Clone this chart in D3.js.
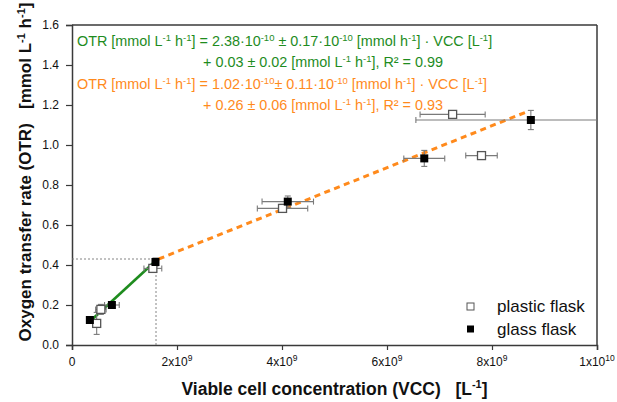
<!DOCTYPE html>
<html><head><meta charset="utf-8">
<script src="https://cdn.jsdelivr.net/npm/d3@7"></script>
<style>
body{margin:0;background:#fff;}
svg text{font-family:"Liberation Sans",Arial,sans-serif;white-space:pre;}
</style></head>
<body><svg id="c" width="617" height="402"></svg>
<script>
// ---- data ----
const plasticX    = [0.47e9, 0.55e9, 1.54e9, 4.01e9, 7.80e9, 7.25e9];
const plasticY    = [0.108, 0.178, 0.383, 0.683, 0.947, 1.153];
const plasticXErr = [0.05e9, 0.10e9, 0.17e9, 0.48e9, 0.30e9, 0.62e9];
const plasticYErr = [0.055, 0.025, 0.02, 0.02, 0.015, 0.015];
const glassX      = [0.34e9, 0.76e9, 1.59e9, 4.11e9, 6.71e9, 8.74e9];
const glassY      = [0.125, 0.20, 0.415, 0.717, 0.933, 1.125];
const glassXErr   = [0.05e9, 0.14e9, 0.05e9, 0.49e9, 0.39e9, 2.19e9];
const glassYErr   = [0.01, 0.01, 0.02, 0.028, 0.04, 0.048];
const greenFitX   = [0.35e9, 1.55e9];
const greenFitY   = [0.12, 0.41];
const orangeFitX  = [1.65e9, 8.70e9];
const orangeFitY  = [0.43, 1.17];
const guideX = 1.6e9, guideY = 0.43;
const xTicks = [0, 2e9, 4e9, 6e9, 8e9, 1e10];
const xTickMant = ["0", "2x10", "4x10", "6x10", "8x10", "1x10"];
const xTickExp  = ["", "9", "9", "9", "9", "10"];
const yTicks = [0, 0.2, 0.4, 0.6, 0.8, 1.0, 1.2, 1.4, 1.6];
const yTickLabels = ["0.0","0.2","0.4","0.6","0.8","1.0","1.2","1.4","1.6"];
const legendLabels = ["plastic flask", "glass flask"];
const eqGreen = ["OTR [mmol L^{-1} h^{-1}] = 2.38·10^{-10} ± 0.17·10^{-10} [mmol h^{-1}] · VCC [L^{-1}]",
                 "+ 0.03 ± 0.02 [mmol L^{-1} h^{-1}], R² = 0.99"];
const eqOrange = ["OTR [mmol L^{-1} h^{-1}] = 1.02·10^{-10}± 0.11·10^{-10} [mmol h^{-1}] · VCC [L^{-1}]",
                  "+ 0.26 ± 0.06 [mmol L^{-1} h^{-1}], R² = 0.93"];

// ---- layout ----
const L = 72, R = 597, T = 25, B = 345;
const svg = d3.select("#c");
const x = d3.scaleLinear().domain([0, 1e10]).range([L, R]);
const y = d3.scaleLinear().domain([0, 1.6]).range([B, T]);
const GREEN = "#1e8c1e", ORANGE = "#ff8a1c", AX = "#3a3a3a", ERR = "#7a7a7a";

svg.append("defs").append("clipPath").attr("id","pc")
  .append("rect").attr("x",L).attr("y",T).attr("width",R-L).attr("height",B-T);

// superscript helper
function richText(sel, str, size, supSize){
  const parts = str.split(/(\^\{[^}]*\})/);
  let raised = false;
  parts.forEach(p=>{
    if(!p) return;
    if(p.startsWith("^{")){
      sel.append("tspan").attr("dy", -size*0.38).attr("font-size", supSize).text(p.slice(2,-1));
      raised = true;
    } else {
      const t = sel.append("tspan").attr("font-size", size).text(p);
      if(raised){ t.attr("dy", size*0.38); raised=false; }
    }
  });
}

// axes
const xAxis = d3.axisBottom(x).tickValues(xTicks).tickSize(5).tickFormat("");
const gx = svg.append("g").attr("transform",`translate(0,${B})`).call(xAxis);
gx.select(".domain").attr("stroke",AX).attr("stroke-width",1.5);
gx.selectAll(".tick line").attr("stroke",AX).attr("stroke-width",1.2);
xTicks.forEach((v,i)=>{
  const t = svg.append("text").attr("x", x(v)).attr("y", B+21).attr("text-anchor","middle").attr("fill","#111");
  richText(t, xTickMant[i] + (xTickExp[i] ? "^{"+xTickExp[i]+"}" : ""), 12, 8.5);
});
const yAxis = d3.axisLeft(y).tickValues(yTicks).tickSize(6).tickFormat((d,i)=>yTickLabels[i]);
const gy = svg.append("g").attr("transform",`translate(${L},0)`).call(yAxis);
gy.select(".domain").attr("stroke",AX).attr("stroke-width",1.5);
gy.selectAll(".tick line").attr("stroke",AX).attr("stroke-width",1.2);
gy.selectAll(".tick text").attr("font-family","Liberation Sans, Arial, sans-serif").attr("font-size",12).attr("fill","#111").attr("x",-13);
// frame top/right
svg.append("line").attr("x1",L).attr("x2",R).attr("y1",T).attr("y2",T).attr("stroke",AX).attr("stroke-width",1.5);
svg.append("line").attr("x1",R).attr("x2",R).attr("y1",T).attr("y2",B).attr("stroke",AX).attr("stroke-width",1.5);

// axis titles
const xt = svg.append("text").attr("x",(L+R)/2).attr("y",395).attr("text-anchor","middle").attr("font-weight","bold").attr("fill","#111");
richText(xt, "Viable cell concentration (VCC)   [L^{-1}]", 17.5, 11);
const yt = svg.append("text").attr("transform","translate(31,172) rotate(-90)").attr("text-anchor","middle").attr("font-weight","bold").attr("fill","#111");
richText(yt, "Oxygen transfer rate (OTR)   [mmol L^{-1} h^{-1}]", 17, 11);

const plot = svg.append("g").attr("clip-path","url(#pc)");

// guide dotted lines
plot.append("line").attr("x1",x(guideX)).attr("x2",x(guideX)).attr("y1",y(0)).attr("y2",y(guideY))
  .attr("stroke","#777").attr("stroke-width",0.9).attr("stroke-dasharray","2,2");
plot.append("line").attr("x1",x(0)).attr("x2",x(guideX)).attr("y1",y(guideY)).attr("y2",y(guideY))
  .attr("stroke","#777").attr("stroke-width",0.9).attr("stroke-dasharray","2,2");

// fit lines
const line = d3.line().x(d=>x(d[0])).y(d=>y(d[1]));
plot.append("path").attr("d", line(d3.zip(orangeFitX, orangeFitY))).attr("fill","none")
  .attr("stroke",ORANGE).attr("stroke-width",3).attr("stroke-dasharray","6,4.5");
plot.append("path").attr("d", line(d3.zip(greenFitX, greenFitY))).attr("fill","none")
  .attr("stroke",GREEN).attr("stroke-width",2.6);

// error bars
function errBars(xs, ys, xe, ye){
  const g = plot.append("g").attr("stroke",ERR).attr("stroke-width",1.1).attr("fill","none");
  const cap = 3;
  xs.forEach((xv,i)=>{
    const cx = x(xv), cy = y(ys[i]);
    const x0 = x(xv - xe[i]), x1 = x(xv + xe[i]);
    const y0 = y(ys[i] - ye[i]), y1 = y(ys[i] + ye[i]);
    g.append("line").attr("x1",x0).attr("x2",x1).attr("y1",cy).attr("y2",cy);
    g.append("line").attr("x1",x0).attr("x2",x0).attr("y1",cy-cap).attr("y2",cy+cap);
    g.append("line").attr("x1",x1).attr("x2",x1).attr("y1",cy-cap).attr("y2",cy+cap);
    g.append("line").attr("x1",cx).attr("x2",cx).attr("y1",y0).attr("y2",y1);
    g.append("line").attr("x1",cx-cap).attr("x2",cx+cap).attr("y1",y0).attr("y2",y0);
    g.append("line").attr("x1",cx-cap).attr("x2",cx+cap).attr("y1",y1).attr("y2",y1);
  });
}
errBars(plasticX, plasticY, plasticXErr, plasticYErr);
errBars(glassX, glassY, glassXErr, glassYErr);

// markers
const S = 8;
plot.selectAll(".pm").data(d3.zip(plasticX, plasticY)).enter().append("rect")
  .attr("x",d=>x(d[0])-S/2).attr("y",d=>y(d[1])-S/2).attr("width",S).attr("height",S)
  .attr("fill","#fff").attr("stroke","#555").attr("stroke-width",1.3);
plot.selectAll(".gm").data(d3.zip(glassX, glassY)).enter().append("rect")
  .attr("x",d=>x(d[0])-S/2).attr("y",d=>y(d[1])-S/2).attr("width",S).attr("height",S)
  .attr("fill","#000");

// equations
const eqX1 = 77, eqX2 = 203;
[[eqGreen,GREEN,41],[eqOrange,ORANGE,84]].forEach(([lines,col,y0])=>{
  lines.forEach((s,i)=>{
    const t = svg.append("text").attr("x", i===0?eqX1:eqX2).attr("y", y0 + i*21 + 5).attr("fill",col);
    richText(t, s, 14.4, 9.5);
  });
});

// legend
const lg = svg.append("g");
lg.append("rect").attr("x",467).attr("y",303).attr("width",7).attr("height",7).attr("fill","#fff").attr("stroke","#555").attr("stroke-width",1);
lg.append("rect").attr("x",467).attr("y",325.5).attr("width",7).attr("height",7).attr("fill","#000");
legendLabels.forEach((s,i)=>{
  lg.append("text").attr("x",497).attr("y",312 + i*22.5).attr("font-size",17).attr("fill","#111").text(s);
});
</script></body></html>
